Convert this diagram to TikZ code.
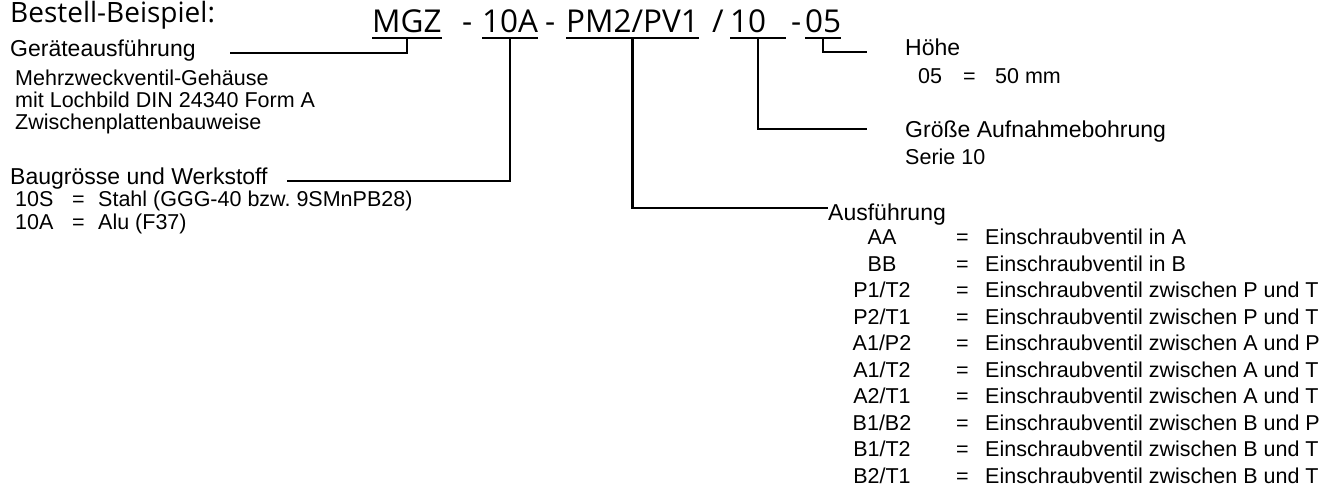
\documentclass[tikz,border=0pt]{standalone}
\usepackage{fontspec}
\setmainfont{Liberation Sans}
\newfontfamily\headfont{Open Sans}
\usetikzlibrary{calc}
\frenchspacing

\tikzset{
  txt/.style={anchor=base west,inner sep=0pt,font=\fontsize{21.5}{24}\selectfont},
  titletxt/.style={txt,font=\fontsize{23}{26}\selectfont},
  headtxt/.style={anchor=base west,inner sep=0pt,font=\headfont\fontsize{28}{32}\selectfont},
  codetxt/.style={anchor=base west,inner sep=0pt,font=\headfont\fontsize{31.5}{34}\selectfont},
  conn/.style={line width=2.5pt},
}

\begin{document}
\begin{tikzpicture}[x=1pt,y=-1pt]
  \useasboundingbox (0,0) rectangle (1330,488);
  % Bestellschluessel
  \node[headtxt] (bestell) at (10,22) {Bestell-Beispiel:};
  \coordinate (ul) at (0,38);
  \node[codetxt] (mgz) at (372,32) {MGZ};
  \node[codetxt] (dashA) at (462,32) {-};
  \node[codetxt] (sizeA) at (482,32) {10A};
  \node[codetxt] (dashB) at (545,32) {-};
  \node[codetxt] (pmpv) at (566,32) {PM2/PV1};
  \node[codetxt] (slash) at (712,32) {/};
  \node[codetxt,text width=56pt] (serie) at (730,32) {10};
  \node[codetxt] (dashC) at (791,32) {-};
  \node[codetxt] (hoehe) at (805,32) {05};
  \foreach \n in {mgz,sizeA,pmpv,serie,hoehe}
    \draw[conn] (\n.west |- ul) -- (\n.east |- ul);

  % linke Seite
  \node[titletxt] (geraete) at (10,56) {Geräteausführung};
  \coordinate (geraeteL) at (230,53);
  \foreach \t [count=\i] in {Mehrzweckventil-Gehäuse,mit Lochbild DIN 24340 Form A,Zwischenplattenbauweise}
    \node[txt] (geraete\i) at (15,63+22*\i) {\t};
  \node[titletxt] (baugr) at (10,184) {Baugrösse und Werkstoff};
  \coordinate (baugrL) at (287,181);
  \foreach \c/\t [count=\i] in {10S/Stahl (GGG-40 bzw. 9SMnPB28),10A/Alu (F37)}{
    \node[txt] (bcode\i) at (15,184+22.5*\i) {\c};
    \node[txt] (beq\i) at (72,184+22.5*\i) {=};
    \node[txt] (btxt\i) at (98,184+22.5*\i) {\t};
  }

  % rechte Seite
  \node[titletxt] (hoeheT) at (905,55) {Höhe};
  \coordinate (hoeheL) at (867,52);
  \node[txt] (hcode) at (918,83) {05};
  \node[txt] (heq) at (963,83) {=};
  \node[txt] (htxt) at (995,83) {50 mm};
  \node[titletxt] (groesse) at (905,137) {Größe Aufnahmebohrung};
  \coordinate (groesseL) at (867,129);
  \node[txt] (serieT) at (905,164) {Serie 10};
  \node[titletxt] (ausf) at (828,220) {Ausführung};
  \coordinate (ausfL) at (828,208);
  \foreach \c/\t [count=\i] in {AA/in A,BB/in B,{P1/T2}/zwischen P und T,{P2/T1}/zwischen P und T,
      {A1/P2}/zwischen A und P,{A1/T2}/zwischen A und T,{A2/T1}/zwischen A und T,
      {B1/B2}/zwischen B und P,{B1/T2}/zwischen B und T,{B2/T1}/zwischen B und T}{
    \node[txt,anchor=base] (acode\i) at (882,218+26.5*\i) {\c};
    \node[txt] (aeq\i) at (956,218+26.5*\i) {=};
    \node[txt] (atxt\i) at (985,218+26.5*\i) {Einschraubventil \t};
  }

  % Verbindungslinien
  \draw[conn] (mgz |- ul) |- (geraeteL);
  \draw[conn] (sizeA |- ul) |- (baugrL);
  \draw[conn] (pmpv |- ul) |- (ausfL);
  \draw[conn] (serie |- ul) |- (groesseL);
  \draw[conn] (hoehe |- ul) |- (hoeheL);
\end{tikzpicture}
\end{document}
